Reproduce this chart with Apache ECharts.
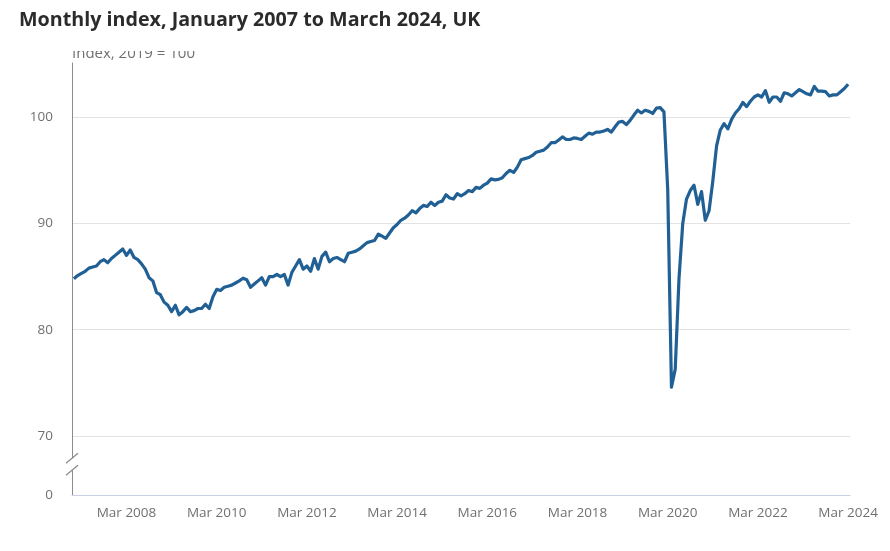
<!DOCTYPE html>
<html>
<head>
<meta charset="utf-8">
<title>Monthly index, January 2007 to March 2024, UK</title>
<script src="https://cdn.jsdelivr.net/npm/echarts@6/dist/echarts.min.js"></script>
<style>
  html, body { margin: 0; padding: 0; background: #fff; }
  #main { width: 890px; height: 551px; }
</style>
</head>
<body>
<div id="main"></div>
<script>
// months and years on the category axis
var monthNames = ['Jan', 'Feb', 'Mar', 'Apr', 'May', 'Jun', 'Jul', 'Aug', 'Sep', 'Oct', 'Nov', 'Dec'];
var years = [2007, 2008, 2009, 2010, 2011, 2012, 2013, 2014, 2015, 2016,
             2017, 2018, 2019, 2020, 2021, 2022, 2023, 2024];

// monthly GDP index, 2019 = 100, one row per year (Jan 2007 .. Mar 2024)
var indexValues = [
  84.8, 85.1, 85.3, 85.5, 85.8, 85.9, 86.0, 86.4, 86.6, 86.3, 86.7, 87.0,
  87.3, 87.6, 87.0, 87.5, 86.8, 86.6, 86.2, 85.7, 84.9, 84.6, 83.5, 83.3,
  82.6, 82.3, 81.7, 82.3, 81.4, 81.7, 82.1, 81.7, 81.8, 82.0, 82.0, 82.4,
  82.0, 83.1, 83.8, 83.7, 84.0, 84.1, 84.2, 84.4, 84.6, 84.85, 84.7, 84.0,
  84.3, 84.6, 84.9, 84.2, 85.0, 85.0, 85.2, 85.0, 85.2, 84.2, 85.4, 86.0,
  86.6, 85.7, 86.0, 85.5, 86.7, 85.7, 86.9, 87.3, 86.4, 86.7, 86.8, 86.6,
  86.4, 87.2, 87.3, 87.4, 87.6, 87.9, 88.2, 88.3, 88.4, 89.0, 88.8, 88.6,
  89.1, 89.6, 89.9, 90.3, 90.5, 90.8, 91.2, 91.0, 91.4, 91.7, 91.6, 92.0,
  91.7, 92.0, 92.1, 92.7, 92.4, 92.3, 92.8, 92.6, 92.8, 93.1, 93.0, 93.4,
  93.3, 93.6, 93.8, 94.2, 94.1, 94.15, 94.3, 94.7, 95.0, 94.8, 95.3, 96.0,
  96.1, 96.2, 96.4, 96.7, 96.8, 96.9, 97.2, 97.6, 97.6, 97.85, 98.15, 97.9,
  97.9, 98.05, 98.0, 97.9, 98.2, 98.5, 98.4, 98.6, 98.6, 98.7, 98.85, 98.6,
  99.1, 99.55, 99.6, 99.3, 99.7, 100.2, 100.65, 100.4, 100.65, 100.55, 100.35, 100.85,
  100.9, 100.5, 93.2, 74.6, 76.3, 84.8, 90.0, 92.3, 93.1, 93.6, 91.8, 93.0,
  90.3, 91.2, 94.0, 97.3, 98.8, 99.4, 98.9, 99.8, 100.4, 100.8, 101.4, 101.0,
  101.5, 101.9, 102.1, 101.9, 102.5, 101.4, 101.9, 101.9, 101.5, 102.3, 102.2, 102.0,
  102.3, 102.6, 102.4, 102.2, 102.1, 102.9, 102.45, 102.45, 102.4, 102.0, 102.1, 102.1,
  102.4, 102.7, 103.1
];

// labelled ticks on the x axis
var tickLabels = ['Mar 2008', 'Mar 2010', 'Mar 2012', 'Mar 2014', 'Mar 2016',
                  'Mar 2018', 'Mar 2020', 'Mar 2022', 'Mar 2024'];

// y axis: gridlines/labels, with a broken axis down to 0
var yTicks = [70, 80, 90, 100];
var yBottom = 64.45;   // where the axis is cut; labelled as 0
var yTop = 105.1;
var yBreakAt = 67.35;  // where the // mark sits

var categories = [];
years.forEach(function (y) {
  monthNames.forEach(function (m) {
    if (categories.length < indexValues.length) categories.push(m + ' ' + y);
  });
});

var gridLeft = 72;
var labelColor = '#707070';
var fontFamily = '"Open Sans", "Noto Sans", sans-serif';

var chart = echarts.init(document.getElementById('main'));

function isTick(idx, value) {
  return tickLabels.indexOf(value) >= 0;
}

var option = {
  animation: false,
  backgroundColor: '#ffffff',
  textStyle: { fontFamily: fontFamily },
  title: {
    text: 'Monthly index, January 2007 to March 2024, UK',
    left: 14,
    top: 5,
    z: 60,
    textStyle: {
      fontFamily: fontFamily,
      fontSize: 19.7,
      fontWeight: 'bold',
      color: '#2b2b2b'
    }
  },
  grid: {
    left: gridLeft,
    right: 40,
    top: 63,
    bottom: 56,
    containLabel: false
  },
  xAxis: {
    type: 'category',
    data: categories,
    boundaryGap: true,
    axisLine: { lineStyle: { color: '#c9d0e6', width: 1 } },
    axisTick: {
      alignWithLabel: true,
      interval: isTick,
      length: 11,
      lineStyle: { color: '#c9d0e6' }
    },
    axisLabel: {
      interval: isTick,
      margin: 11,
      color: labelColor,
      fontSize: 13.5,
      fontFamily: fontFamily
    },
    splitLine: { show: false }
  },
  yAxis: {
    type: 'value',
    min: yBottom,
    max: yTop,
    name: 'Index, 2019 = 100',
    nameLocation: 'end',
    nameGap: 2,
    nameTextStyle: {
      align: 'left',
      verticalAlign: 'bottom',
      color: labelColor,
      fontSize: 15,
      fontFamily: fontFamily
    },
    axisLine: { show: true, lineStyle: { color: '#8c8c8c', width: 1 } },
    axisTick: { show: false, customValues: yTicks },
    axisLabel: {
      customValues: [yBottom].concat(yTicks),
      margin: 19,
      color: labelColor,
      fontSize: 13.5,
      fontFamily: fontFamily,
      formatter: function (v) { return v < yTicks[0] ? '0' : String(v); }
    },
    splitLine: { show: true, lineStyle: { color: '#e3e3e3', width: 1 } }
  },
  series: [{
    name: 'Monthly index',
    type: 'line',
    data: indexValues,
    showSymbol: false,
    symbol: 'none',
    smooth: false,
    lineStyle: { color: '#206095', width: 3.2, join: 'round' },
    itemStyle: { color: '#206095' }
  }]
};

chart.setOption(option);

// broken-axis mark and the clipped top of the axis title
var yB = chart.convertToPixel({ yAxisIndex: 0 }, yBreakAt);
chart.setOption({
  graphic: [
    {
      type: 'rect', z: 50, silent: true,
      shape: { x: 0, y: 0, width: 890, height: 51 },
      style: { fill: '#ffffff' }
    },
    {
      type: 'rect', z: 100, silent: true,
      shape: { x: gridLeft - 2, y: yB - 6, width: 4, height: 12 },
      style: { fill: '#ffffff' }
    },
    {
      type: 'line', z: 101, silent: true,
      shape: { x1: gridLeft - 6, y1: yB - 1, x2: gridLeft + 6, y2: yB - 11 },
      style: { stroke: '#8c8c8c', lineWidth: 1.3 }
    },
    {
      type: 'line', z: 101, silent: true,
      shape: { x1: gridLeft - 6, y1: yB + 11, x2: gridLeft + 6, y2: yB + 1 },
      style: { stroke: '#8c8c8c', lineWidth: 1.3 }
    }
  ]
});
</script>
</body>
</html>
